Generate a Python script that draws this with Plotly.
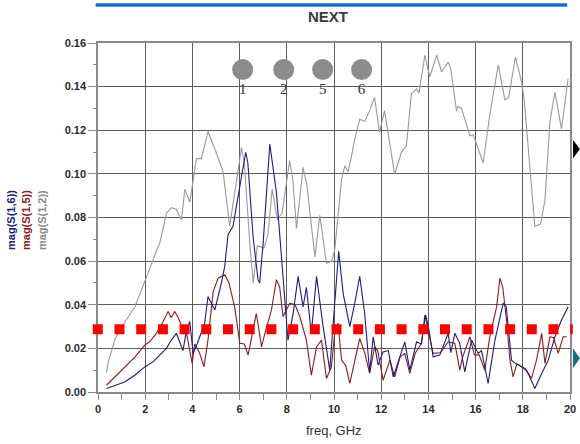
import plotly.graph_objects as go

# ---- data ----
freq_s12 = [0.36, 0.42, 0.71, 1.13, 1.56, 1.98, 2.12, 2.47, 2.62, 2.9, 3.11, 3.32, 3.54, 3.68, 3.89,
            4.1, 4.17, 4.38, 4.66, 5.0, 5.3, 5.58, 6.08, 6.2, 6.44, 6.58, 6.75, 7.03, 7.2, 7.38, 7.6,
            7.8, 8.12, 8.25, 8.41, 8.69, 8.85, 9.19, 9.4, 9.68, 9.9, 10.03, 10.17, 10.32, 10.46, 10.6,
            10.74, 10.88, 11.09, 11.3, 11.51, 11.72, 11.93, 12.14, 12.57, 12.86, 13.07, 13.28, 13.5,
            13.6, 13.85, 14.06, 14.35, 14.56, 14.84, 14.95, 15.19, 15.26, 15.4, 15.76, 15.9, 16.11,
            16.32, 16.6, 16.96, 17.24, 17.4, 17.69, 17.95, 18.05, 18.51, 18.75, 18.94, 19.15, 19.36,
            19.64, 19.92]
mag_s12 = [0.009, 0.013, 0.024, 0.032, 0.039, 0.050, 0.0545, 0.0645, 0.0684, 0.082, 0.0845, 0.0837,
           0.079, 0.093, 0.087, 0.102, 0.107, 0.107, 0.1194, 0.110, 0.101, 0.076, 0.112, 0.105, 0.067,
           0.050, 0.067, 0.066, 0.072, 0.093, 0.079, 0.082, 0.106, 0.098, 0.075, 0.103, 0.095, 0.062,
           0.081, 0.059, 0.060, 0.065, 0.082, 0.0976, 0.1037, 0.101, 0.108, 0.116, 0.125, 0.124,
           0.129, 0.135, 0.119, 0.129, 0.0999, 0.110, 0.113, 0.1367, 0.139, 0.137, 0.1544, 0.1444,
           0.1544, 0.1467, 0.1513, 0.148, 0.129, 0.131, 0.130, 0.1175, 0.118, 0.111, 0.105, 0.127,
           0.150, 0.134, 0.135, 0.1536, 0.142, 0.135, 0.076, 0.077, 0.088, 0.124, 0.1375, 0.1206,
           0.1436]

freq_s15 = [0.36, 0.71, 1.13, 1.56, 1.98, 2.19, 2.47, 2.76, 2.97, 3.1, 3.25, 3.4, 3.55, 3.75, 3.99,
            4.1, 4.3, 4.49, 4.66, 4.88, 5.09, 5.37, 5.55, 5.79, 6.01, 6.2, 6.36, 6.5, 6.71, 6.93, 7.05,
            7.35, 7.56, 7.7, 7.84, 8.0, 8.13, 8.35, 8.55, 8.83, 9.04, 9.26, 9.47, 9.68, 9.89, 10.05,
            10.17, 10.32, 10.5, 10.67, 10.88, 11.09, 11.3, 11.51, 11.72, 11.85, 12.08, 12.37, 12.57,
            12.8, 13.0, 13.21, 13.45, 13.71, 13.85, 14.0, 14.2, 14.5, 14.84, 15.12, 15.33, 15.45, 15.76,
            15.95, 16.15, 16.39, 16.6, 16.89, 17.03, 17.15, 17.31, 17.45, 17.59, 17.75, 17.95, 18.15,
            18.37, 18.58, 18.8, 18.94, 19.15, 19.3, 19.5, 19.71, 19.86]
mag_s15 = [0.0031, 0.0069, 0.0115, 0.016, 0.0215, 0.023, 0.0269, 0.0323, 0.0369, 0.034, 0.0369, 0.034,
           0.030, 0.027, 0.0131, 0.022, 0.018, 0.0115, 0.0238, 0.046, 0.0522, 0.0538, 0.050, 0.039,
           0.0223, 0.022, 0.0169, 0.025, 0.036, 0.0207, 0.026, 0.0376, 0.0515, 0.048, 0.0346, 0.038,
           0.0407, 0.040, 0.0346, 0.0238, 0.0077, 0.0207, 0.0238, 0.0062, 0.0115, 0.029, 0.0315,
           0.0146, 0.012, 0.0039, 0.0146, 0.0246, 0.018, 0.0085, 0.0207, 0.019, 0.0054, 0.0146,
           0.0069, 0.016, 0.0177, 0.0085, 0.018, 0.0223, 0.0353, 0.027, 0.0177, 0.018, 0.023, 0.0223,
           0.010, 0.016, 0.0253, 0.017, 0.017, 0.010, 0.0253, 0.039, 0.0522, 0.048, 0.033, 0.015,
           0.0069, 0.013, 0.0115, 0.010, 0.0062, 0.0146, 0.0269, 0.0131, 0.0253, 0.025, 0.0177,
           0.0253, 0.0253]

freq_s16 = [0.36, 0.71, 1.13, 1.56, 1.98, 2.33, 2.62, 2.9, 3.11, 3.32, 3.6, 3.75, 3.89, 4.03, 4.2,
            4.38, 4.52, 4.66, 4.95, 5.23, 5.37, 5.51, 5.72, 5.94, 6.26, 6.35, 6.57, 6.78, 6.85, 6.99,
            7.28, 7.56, 7.84, 8.05, 8.27, 8.48, 8.69, 8.83, 9.04, 9.26, 9.54, 9.82, 10.03, 10.2, 10.39,
            10.67, 10.88, 11.09, 11.3, 11.51, 11.66, 11.87, 12.08, 12.3, 12.51, 12.75, 13.0, 13.21,
            13.5, 13.7, 13.88, 14.0, 14.2, 14.48, 14.84, 14.95, 15.12, 15.33, 15.54, 15.83, 16.11,
            16.25, 16.53, 16.82, 17.17, 17.3, 17.52, 17.7, 18.09, 18.25, 18.51, 18.8, 19.08, 19.36,
            19.64, 19.92]
mag_s16 = [0.0016, 0.003, 0.0046, 0.0077, 0.0115, 0.0138, 0.0169, 0.020, 0.0238, 0.0269, 0.019,
           0.0284, 0.0323, 0.0177, 0.022, 0.0269, 0.0315, 0.0438, 0.0376, 0.050, 0.0576, 0.0722,
           0.076, 0.0899, 0.1099, 0.105, 0.0714, 0.0515, 0.050, 0.067, 0.1137, 0.0914, 0.053, 0.0238,
           0.036, 0.053, 0.039, 0.048, 0.0269, 0.053, 0.030, 0.010, 0.0407, 0.0645, 0.045, 0.030,
           0.0407, 0.053, 0.036, 0.0092, 0.0253, 0.0123, 0.0184, 0.019, 0.0069, 0.015, 0.023, 0.010,
           0.023, 0.022, 0.0353, 0.030, 0.0161, 0.0169, 0.0269, 0.018, 0.0269, 0.0223, 0.0092,
           0.0238, 0.0177, 0.019, 0.0039, 0.0238, 0.0407, 0.039, 0.0146, 0.013, 0.0108, 0.008, 0.0016,
           0.0085, 0.0146, 0.0253, 0.033, 0.039]

limit_value = 0.0288
marker_freq = [6.13, 7.87, 9.52, 11.17]
marker_mag = [0.1478, 0.1478, 0.1478, 0.1478]
marker_labels = ["1", "2", "5", "6"]
x_ticks = [0, 2, 4, 6, 8, 10, 12, 14, 16, 18, 20]
y_ticks = [0.00, 0.02, 0.04, 0.06, 0.08, 0.10, 0.12, 0.14, 0.16]

GREY = "#9a9a9a"
RED = "#8b1c1c"
NAVY = "#1c1c82"

fig = go.Figure()
fig.add_trace(go.Scatter(x=freq_s12, y=mag_s12, mode="lines", line=dict(color=GREY, width=1.1),
                         name="mag(S(1,2))"))
fig.add_trace(go.Scatter(x=freq_s15, y=mag_s15, mode="lines", line=dict(color=RED, width=1.1),
                         name="mag(S(1,5))"))
fig.add_trace(go.Scatter(x=freq_s16, y=mag_s16, mode="lines", line=dict(color=NAVY, width=1.1),
                         name="mag(S(1,6))"))
fig.add_trace(go.Scatter(x=marker_freq, y=marker_mag, mode="markers",
                         marker=dict(size=21, color="#8c8c8c"), cliponaxis=False))
# marker labels sit just beneath each marker dot
fig.add_trace(go.Scatter(x=marker_freq, y=[m - 0.0094 for m in marker_mag], mode="text",
                         text=marker_labels, textposition="middle center",
                         textfont=dict(family="Liberation Serif", size=15, color="#2e2e50"),
                         cliponaxis=False))

axis_font = dict(family="Liberation Sans", size=11, color="#2a2a2a")
fig.update_xaxes(range=[0, 20], tickvals=x_ticks, ticktext=[f"<b>{v}</b>" for v in x_ticks],
                 showgrid=True, gridcolor="#5c5c5c", gridwidth=1, zeroline=False,
                 showline=True, linecolor="#8a8a8a", mirror=True, linewidth=1.5,
                 ticks="outside", ticklen=6, tickcolor="#8a8a8a",
                 minor=dict(dtick=1, ticks="outside", ticklen=6, tickcolor="#8a8a8a", showgrid=False),
                 tickfont=axis_font, automargin=False)
fig.update_yaxes(range=[0, 0.16], tickvals=y_ticks, ticktext=[f"<b>{v:.2f}</b>" for v in y_ticks],
                 showgrid=True, gridcolor="#5c5c5c", gridwidth=1, zeroline=False,
                 showline=True, linecolor="#8a8a8a", mirror=True, linewidth=1.5,
                 ticks="outside", ticklen=8, tickcolor="#8a8a8a",
                 minor=dict(dtick=0.01, ticks="outside", ticklen=3, tickcolor="#8a8a8a", showgrid=False),
                 tickfont=axis_font, automargin=False)

shapes = [
    dict(type="line", xref="paper", yref="y", x0=-0.011, x1=1.006, y0=limit_value, y1=limit_value,
         line=dict(color="#ff0000", width=10, dash="10px,11.7px"), layer="above"),
    dict(type="line", xref="paper", yref="paper", x0=-0.005, x1=0.994, y0=1.109, y1=1.109,
         line=dict(color="#1a6cc6", width=3.5)),
    dict(type="path", xref="paper", yref="paper",
         path="M 1.0064 0.722 L 1.021 0.696 L 1.0064 0.670 Z", fillcolor="#000000",
         line=dict(width=0)),
    dict(type="path", xref="paper", yref="paper",
         path="M 1.0064 0.125 L 1.021 0.097 L 1.0064 0.068 Z", fillcolor="#1b6e7e",
         line=dict(width=0)),
]

ann_common = dict(xref="paper", yref="paper", showarrow=False, xanchor="center", yanchor="middle")
annotations = [
    dict(text="<b>NEXT</b>", x=0.487, y=1.077,
         font=dict(family="Liberation Sans", size=15, color="#3a3a3a"), **ann_common),
    dict(text="freq, GHz", x=0.5, y=-0.11,
         font=dict(family="Liberation Sans", size=13, color="#333"), **ann_common),
    dict(text="<b>mag(S(1,6))</b>", x=-0.183, y=0.492, textangle=-90,
         font=dict(family="Liberation Sans", size=11, color=NAVY), **ann_common),
    dict(text="<b>mag(S(1,5))</b>", x=-0.151, y=0.492, textangle=-90,
         font=dict(family="Liberation Sans", size=11, color=RED), **ann_common),
    dict(text="<b>mag(S(1,2))</b>", x=-0.119, y=0.492, textangle=-90,
         font=dict(family="Liberation Sans", size=11, color="#8a8a8a"), **ann_common),
]

fig.update_layout(width=580, height=444, margin=dict(l=98, r=10, t=43, b=52),
                  paper_bgcolor="white", plot_bgcolor="white", showlegend=False,
                  shapes=shapes, annotations=annotations)

fig.write_html("out.html", config={"displayModeBar": False},
               post_script="document.body.style.margin='0';document.body.style.overflow='hidden';")
